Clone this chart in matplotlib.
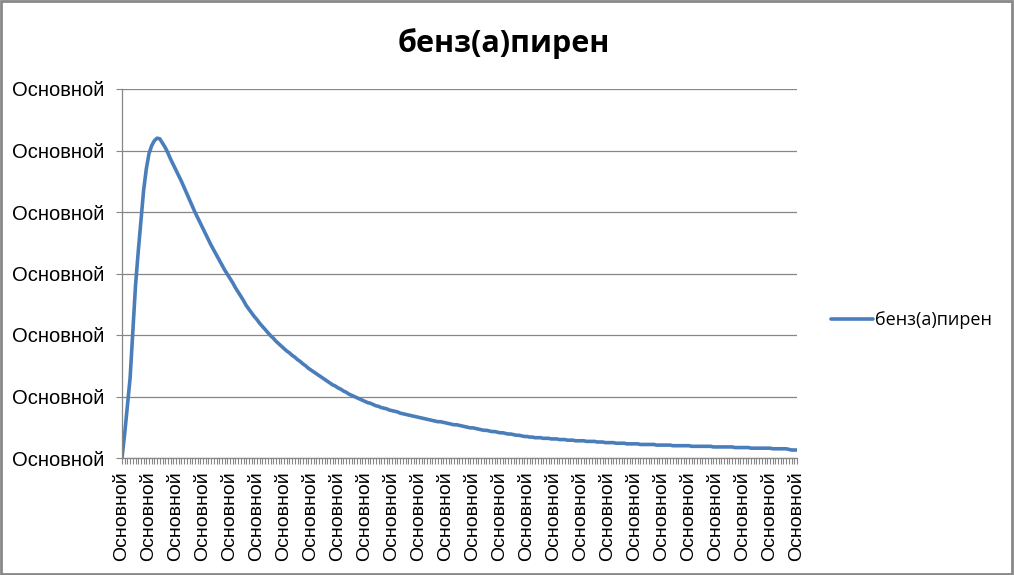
import matplotlib
matplotlib.use("Agg")
import matplotlib.pyplot as plt
from matplotlib.patches import Rectangle

# data (y units: one gridline step = 1)
values = [
    0.00, 0.40, 0.85, 1.30, 2.05, 2.80, 3.35, 3.85, 4.35, 4.70,
    4.95, 5.08, 5.16, 5.20, 5.19, 5.12, 5.05, 4.96, 4.86, 4.77,
    4.68, 4.59, 4.50, 4.40, 4.30, 4.20, 4.10, 4.00, 3.91, 3.82,
    3.73, 3.64, 3.55, 3.46, 3.38, 3.30, 3.22, 3.14, 3.06, 2.99,
    2.92, 2.85, 2.77, 2.70, 2.63, 2.56, 2.48, 2.42, 2.36, 2.30,
    2.25, 2.19, 2.14, 2.09, 2.04, 1.99, 1.95, 1.90, 1.86, 1.82,
    1.78, 1.74, 1.71, 1.67, 1.64, 1.60, 1.57, 1.53, 1.50, 1.46,
    1.43, 1.40, 1.37, 1.34, 1.31, 1.28, 1.25, 1.22, 1.19, 1.17,
    1.14, 1.12, 1.09, 1.07, 1.04, 1.02, 1.00, 0.98, 0.96, 0.94,
    0.92, 0.90, 0.89, 0.87, 0.85, 0.84, 0.82, 0.81, 0.80, 0.78,
    0.77, 0.76, 0.75, 0.73, 0.72, 0.71, 0.70, 0.69, 0.68, 0.67,
    0.66, 0.65, 0.64, 0.63, 0.62, 0.61, 0.60, 0.59, 0.59, 0.58,
    0.57, 0.56, 0.55, 0.54, 0.54, 0.53, 0.52, 0.51, 0.50, 0.49,
    0.49, 0.48, 0.47, 0.46, 0.45, 0.45, 0.44, 0.43, 0.43, 0.42,
    0.41, 0.41, 0.40, 0.39, 0.39, 0.38, 0.37, 0.37, 0.36, 0.35,
    0.35, 0.34, 0.34, 0.33, 0.33, 0.33, 0.32, 0.32, 0.32, 0.31,
    0.31, 0.31, 0.30, 0.30, 0.30, 0.29, 0.29, 0.29, 0.28, 0.28,
    0.28, 0.28, 0.27, 0.27, 0.27, 0.27, 0.26, 0.26, 0.26, 0.25,
    0.25, 0.25, 0.25, 0.24, 0.24, 0.24, 0.24, 0.23, 0.23, 0.23,
    0.23, 0.23, 0.22, 0.22, 0.22, 0.22, 0.22, 0.22, 0.21, 0.21,
    0.21, 0.21, 0.21, 0.21, 0.20, 0.20, 0.20, 0.20, 0.20, 0.20,
    0.20, 0.19, 0.19, 0.19, 0.19, 0.19, 0.19, 0.19, 0.19, 0.18,
    0.18, 0.18, 0.18, 0.18, 0.18, 0.18, 0.18, 0.17, 0.17, 0.17,
    0.17, 0.17, 0.17, 0.16, 0.16, 0.16, 0.16, 0.16, 0.16, 0.16,
    0.16, 0.15, 0.15, 0.15, 0.15, 0.15, 0.15, 0.14, 0.13, 0.13,
    0.13,
]
categories = ["Основной"] * len(values)
y_ticks = [0, 1, 2, 3, 4, 5, 6]
y_labels = ["Основной"] * len(y_ticks)
series_name = "бенз(а)пирен"
title = "бенз(а)пирен"

label_step = 10
line_color = "#4A7EBB"
grid_color = "#868686"

W, H = 1014, 575
fig = plt.figure(figsize=(W / 100, H / 100), dpi=100)
ax = fig.add_axes([122 / W, 1 - 458 / H, (797 - 122) / W, (458 - 89) / H])

x = list(range(len(values)))
ax.plot(x, values, color=line_color, lw=2.6, label=series_name,
        solid_capstyle="round", solid_joinstyle="round")

ax.set_xlim(0, len(values) - 1)
ax.set_ylim(y_ticks[0], y_ticks[-1])

ax.set_yticks(y_ticks)
ax.set_yticklabels(y_labels, fontsize=14.5, family="Liberation Sans")
ax.set_xticks(x)
ax.set_xticklabels([c if i % label_step == 0 else "" for i, c in enumerate(categories)],
                   rotation=90, fontsize=14, family="Liberation Sans")

ax.tick_params(axis="x", length=4.5, width=0.8, color=grid_color, pad=5)
ax.tick_params(axis="y", length=4, width=0.8, color=grid_color, pad=9)

ax.grid(axis="y", color=grid_color, lw=0.9)
ax.set_axisbelow(True)
for s in ("top", "right"):
    ax.spines[s].set_visible(False)
for s in ("left", "bottom"):
    ax.spines[s].set_color(grid_color)
    ax.spines[s].set_linewidth(0.9)

fig.text(504 / W, 1 - 44 / H, title, ha="center", va="center",
         fontsize=22, fontweight="bold", family=["Open Sans", "DejaVu Sans"])

ax.legend(loc="center left", bbox_to_anchor=(815 / W, 1 - 320 / H),
          bbox_transform=fig.transFigure, frameon=False,
          prop={"family": ["Open Sans", "DejaVu Sans"], "size": 13},
          handlelength=2.3, handletextpad=0.1)

fig.patches.append(Rectangle((0.001, 0.002), 0.997, 0.996, transform=fig.transFigure,
                             fill=False, edgecolor="#888888", lw=2))

fig.savefig("out.png", dpi=100)
